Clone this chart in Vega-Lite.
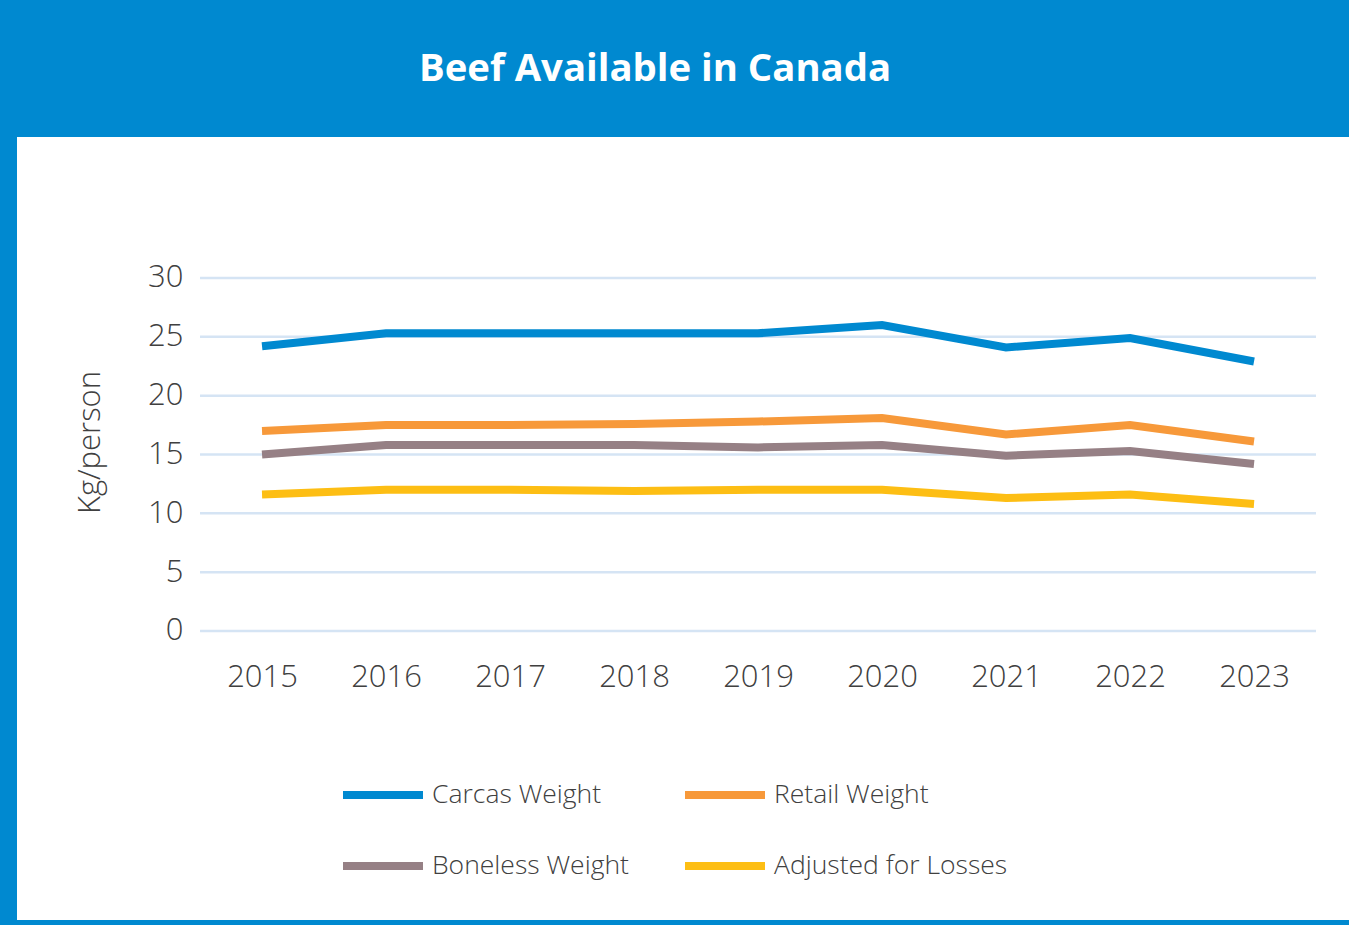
{
  "$schema": "https://vega.github.io/schema/vega-lite/v6.json",
  "autosize": {"type": "none"},
  "width": 1332,
  "height": 783,
  "padding": {"left": 17, "top": 137, "right": 0, "bottom": 5},
  "background": "#0089D0",
  "view": {"fill": "white", "stroke": null},
  "title": {
    "text": "Beef Available in Canada",
    "color": "white",
    "font": "Open Sans",
    "fontSize": 38.3,
    "fontWeight": "bold",
    "anchor": "middle",
    "frame": "group",
    "baseline": "middle",
    "offset": 29,
    "dx": -28
  },
  "datasets": {
    "beef": [
      {"year": 2015, "series": "Carcas Weight", "value": 24.2},
      {"year": 2016, "series": "Carcas Weight", "value": 25.3},
      {"year": 2017, "series": "Carcas Weight", "value": 25.3},
      {"year": 2018, "series": "Carcas Weight", "value": 25.3},
      {"year": 2019, "series": "Carcas Weight", "value": 25.3},
      {"year": 2020, "series": "Carcas Weight", "value": 26.0},
      {"year": 2021, "series": "Carcas Weight", "value": 24.1},
      {"year": 2022, "series": "Carcas Weight", "value": 24.9},
      {"year": 2023, "series": "Carcas Weight", "value": 22.9},
      {"year": 2015, "series": "Retail Weight", "value": 17.0},
      {"year": 2016, "series": "Retail Weight", "value": 17.5},
      {"year": 2017, "series": "Retail Weight", "value": 17.5},
      {"year": 2018, "series": "Retail Weight", "value": 17.6},
      {"year": 2019, "series": "Retail Weight", "value": 17.8},
      {"year": 2020, "series": "Retail Weight", "value": 18.1},
      {"year": 2021, "series": "Retail Weight", "value": 16.7},
      {"year": 2022, "series": "Retail Weight", "value": 17.5},
      {"year": 2023, "series": "Retail Weight", "value": 16.1},
      {"year": 2015, "series": "Boneless Weight", "value": 15.0},
      {"year": 2016, "series": "Boneless Weight", "value": 15.8},
      {"year": 2017, "series": "Boneless Weight", "value": 15.8},
      {"year": 2018, "series": "Boneless Weight", "value": 15.8},
      {"year": 2019, "series": "Boneless Weight", "value": 15.6},
      {"year": 2020, "series": "Boneless Weight", "value": 15.8},
      {"year": 2021, "series": "Boneless Weight", "value": 14.9},
      {"year": 2022, "series": "Boneless Weight", "value": 15.3},
      {"year": 2023, "series": "Boneless Weight", "value": 14.2},
      {"year": 2015, "series": "Adjusted for Losses", "value": 11.6},
      {"year": 2016, "series": "Adjusted for Losses", "value": 12.0},
      {"year": 2017, "series": "Adjusted for Losses", "value": 12.0},
      {"year": 2018, "series": "Adjusted for Losses", "value": 11.9},
      {"year": 2019, "series": "Adjusted for Losses", "value": 12.0},
      {"year": 2020, "series": "Adjusted for Losses", "value": 12.0},
      {"year": 2021, "series": "Adjusted for Losses", "value": 11.3},
      {"year": 2022, "series": "Adjusted for Losses", "value": 11.6},
      {"year": 2023, "series": "Adjusted for Losses", "value": 10.8}
    ],
    "grid": [
      {"v": 0, "x0": 2014.5, "x1": 2023.5},
      {"v": 5, "x0": 2014.5, "x1": 2023.5},
      {"v": 10, "x0": 2014.5, "x1": 2023.5},
      {"v": 15, "x0": 2014.5, "x1": 2023.5},
      {"v": 20, "x0": 2014.5, "x1": 2023.5},
      {"v": 25, "x0": 2014.5, "x1": 2023.5},
      {"v": 30, "x0": 2014.5, "x1": 2023.5}
    ]
  },
  "layer": [
    {
      "data": {"name": "grid"},
      "mark": {"type": "rule", "stroke": "#D5E4F4", "strokeWidth": 2.5},
      "encoding": {
        "y": {
          "field": "v",
          "type": "quantitative",
          "scale": {"domain": [-24.56, 41.98], "nice": false, "zero": false},
          "axis": {
            "values": [0, 5, 10, 15, 20, 25, 30],
            "title": "Kg/person",
            "titleFont": "Open Sans",
            "titleFontSize": 31,
            "titleFontWeight": 300,
            "titleColor": "#404040",
            "titleAngle": -90,
            "titleAlign": "center",
            "titleBaseline": "middle",
            "titleX": -93,
            "titleY": 305,
            "grid": false,
            "domain": false,
            "ticks": false,
            "labelPadding": 0,
            "offset": -166,
            "labelAlign": "right",
            "labelBaseline": "middle",
            "labelFont": "Open Sans",
            "labelFontSize": 31,
            "labelFontWeight": 300,
            "labelColor": "#404040",
            "labelFlush": false,
            "labelOverlap": false
          }
        },
        "x": {
          "field": "x0",
          "type": "quantitative",
          "scale": {"domain": [2013.024, 2023.766], "nice": false, "zero": false},
          "axis": {
            "values": [2015, 2016, 2017, 2018, 2019, 2020, 2021, 2022, 2023],
            "format": "d",
            "title": null,
            "grid": false,
            "domain": false,
            "ticks": false,
            "labelPadding": 0,
            "offset": -243,
            "labelBaseline": "middle",
            "labelFont": "Open Sans",
            "labelFontSize": 31,
            "labelFontWeight": 300,
            "labelColor": "#404040",
            "labelFlush": false,
            "labelOverlap": false
          }
        },
        "x2": {"field": "x1"}
      }
    },
    {
      "data": {"name": "beef"},
      "mark": {"type": "line", "strokeWidth": 8, "strokeCap": "butt"},
      "encoding": {
        "x": {
          "field": "year",
          "type": "quantitative",
          "scale": {"domain": [2013.024, 2023.766], "nice": false, "zero": false},
          "axis": {
            "values": [2015, 2016, 2017, 2018, 2019, 2020, 2021, 2022, 2023],
            "format": "d",
            "title": null,
            "grid": false,
            "domain": false,
            "ticks": false,
            "labelPadding": 0,
            "offset": -243,
            "labelBaseline": "middle",
            "labelFont": "Open Sans",
            "labelFontSize": 31,
            "labelFontWeight": 300,
            "labelColor": "#404040",
            "labelFlush": false,
            "labelOverlap": false
          }
        },
        "y": {
          "field": "value",
          "type": "quantitative",
          "scale": {"domain": [-24.56, 41.98], "nice": false, "zero": false},
          "axis": {
            "values": [0, 5, 10, 15, 20, 25, 30],
            "title": "Kg/person",
            "titleFont": "Open Sans",
            "titleFontSize": 31,
            "titleFontWeight": 300,
            "titleColor": "#404040",
            "titleAngle": -90,
            "titleAlign": "center",
            "titleBaseline": "middle",
            "titleX": -93,
            "titleY": 305,
            "grid": false,
            "domain": false,
            "ticks": false,
            "labelPadding": 0,
            "offset": -166,
            "labelAlign": "right",
            "labelBaseline": "middle",
            "labelFont": "Open Sans",
            "labelFontSize": 31,
            "labelFontWeight": 300,
            "labelColor": "#404040",
            "labelFlush": false,
            "labelOverlap": false
          }
        },
        "color": {
          "field": "series",
          "type": "nominal",
          "scale": {
            "domain": ["Carcas Weight", "Retail Weight", "Boneless Weight", "Adjusted for Losses"],
            "range": ["#0089D0", "#F7993A", "#968085", "#FDBE14"]
          },
          "legend": {
            "title": null,
            "orient": "none",
            "legendX": 322,
            "legendY": 614,
            "columns": 2,
            "direction": "horizontal",
            "symbolType": "M-1,0H1",
            "symbolSize": 6400,
            "symbolStrokeWidth": 8,
            "labelFont": "Open Sans",
            "labelFontSize": 26.5,
            "labelFontWeight": 300,
            "labelColor": "#404040",
            "labelOffset": 5,
            "labelLimit": 500,
            "rowPadding": 11,
            "columnPadding": 40
          }
        }
      }
    }
  ]
}
